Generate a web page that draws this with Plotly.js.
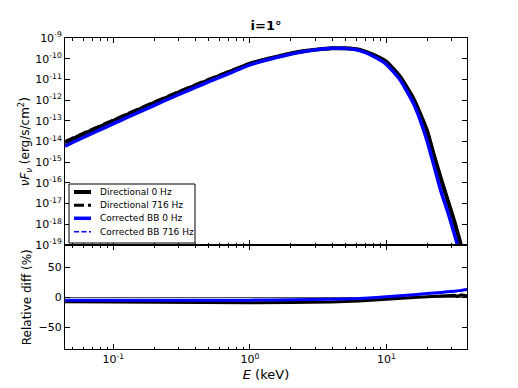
<!DOCTYPE html>
<html>
<head>
<meta charset="utf-8">
<script src="https://cdn.plot.ly/plotly-3.0.1.min.js"></script>
<style>
  html, body { margin: 0; padding: 0; background: #fff; }
  #plot { width: 518px; height: 388px; }
</style>
</head>
<body>
<div id="plot"></div>
<script>
// photon energy grid (keV)
var energy = [0.0442, 0.0501, 0.0631, 0.0794, 0.1, 0.1259, 0.1585, 0.1995, 0.2512, 0.3162,
              0.3981, 0.5012, 0.631, 0.794, 1.0, 1.259, 1.585, 1.995, 2.512, 3.162,
              3.981, 5.012, 6.31, 7.943, 10, 12.59, 15.85, 17.78, 19.95, 22.39, 25.12, 28.18, 31.62, 35.48, 39.81];

// nu F_nu (erg/s/cm^2)
var dir0 = [8.91e-15, 1.32e-14, 2.63e-14, 5.13e-14, 1.0e-13, 1.95e-13, 3.80e-13, 7.41e-13, 1.41e-12, 2.69e-12,
            5.01e-12, 9.33e-12, 1.70e-11, 3.16e-11, 5.75e-11, 8.71e-11, 1.26e-10, 1.78e-10, 2.34e-10, 2.82e-10,
            3.16e-10, 3.16e-10, 2.69e-10, 1.58e-10, 7.08e-11, 1.35e-11, 1.12e-12, 2.0e-13, 3.02e-14, 2.0e-15,
            1.58e-16, 1.41e-17, 1.26e-18, 8.32e-20, 6.31e-21];
var dir716 = [9.77e-15, 1.45e-14, 2.88e-14, 5.62e-14, 1.10e-13, 2.14e-13, 4.17e-13, 8.13e-13, 1.55e-12, 2.95e-12,
              5.50e-12, 1.02e-11, 1.82e-11, 3.31e-11, 5.89e-11, 8.91e-11, 1.26e-10, 1.78e-10, 2.34e-10, 2.82e-10,
              3.16e-10, 3.16e-10, 2.69e-10, 1.58e-10, 7.08e-11, 1.35e-11, 1.12e-12, 2.0e-13, 3.02e-14, 2.0e-15,
              1.58e-16, 1.41e-17, 1.26e-18, 8.32e-20, 6.31e-21];
var bb0 = [6.03e-15, 8.91e-15, 1.82e-14, 3.63e-14, 7.24e-14, 1.45e-13, 2.88e-13, 5.62e-13, 1.10e-12, 2.14e-12,
           4.07e-12, 7.76e-12, 1.45e-11, 2.69e-11, 5.01e-11, 7.94e-11, 1.17e-10, 1.66e-10, 2.24e-10, 2.75e-10,
           3.16e-10, 3.09e-10, 2.51e-10, 1.35e-10, 5.37e-11, 9.55e-12, 6.61e-13, 1.0e-13, 1.0e-14, 6.31e-16,
           3.98e-17, 3.98e-18, 3.16e-19, 2.0e-20, 1.0e-21];
var bb716 = [6.2e-15, 9.1e-15, 1.86e-14, 3.7e-14, 7.4e-14, 1.48e-13, 2.94e-13, 5.7e-13, 1.12e-12, 2.18e-12,
             4.1e-12, 7.8e-12, 1.46e-11, 2.7e-11, 5.0e-11, 7.94e-11, 1.17e-10, 1.66e-10, 2.24e-10, 2.75e-10,
             3.16e-10, 3.09e-10, 2.51e-10, 1.35e-10, 5.37e-11, 9.55e-12, 6.61e-13, 1.0e-13, 1.0e-14, 6.31e-16,
             3.98e-17, 3.98e-18, 3.16e-19, 2.0e-20, 1.0e-21];

// relative difference (%)
var diffEnergy = [0.0442, 0.1, 0.3162, 1.0, 1.995, 3.981, 6.31, 10, 15.85, 25.12, 31.62, 33.1, 35.48, 39.81];
var diffDir = [-7.5, -8.2, -9, -9, -8.6, -7.8, -6, -2.8, -0.3, 2.2, 3.3, 1.5, 4, 2];
var diffBB = [-5, -5, -5, -4.7, -4.2, -3.4, -2, 0.8, 4.3, 8.1, 10.2, 10.7, 11.5, 13.2];

// tick labels
var xTickVals = [0.1, 1, 10];
var xTickText = ['10<sup>-1</sup>', '10<sup>0</sup>', '10<sup>1</sup>'];
var yTickVals = [1e-19, 1e-18, 1e-17, 1e-16, 1e-15, 1e-14, 1e-13, 1e-12, 1e-11, 1e-10, 1e-9];
var yTickText = ['10<sup>-19</sup>', '10<sup>-18</sup>', '10<sup>-17</sup>', '10<sup>-16</sup>', '10<sup>-15</sup>',
                 '10<sup>-14</sup>', '10<sup>-13</sup>', '10<sup>-12</sup>', '10<sup>-11</sup>', '10<sup>-10</sup>',
                 '10<sup>-9</sup>'];

// series styles (shared by the traces and the hand-drawn legend)
var names = ['Directional 0 Hz', 'Directional 716 Hz', 'Corrected BB 0 Hz', 'Corrected BB 716 Hz'];
var styles = [
  {color: 'black', width: 4, dash: 'solid'},
  {color: 'black', width: 3, dash: '10px,4px'},
  {color: '#0000ff', width: 3.5, dash: 'solid'},
  {color: '#0000ff', width: 1.5, dash: '5px,2.5px'}
];
var fluxes = [dir0, dir716, bb0, bb716];

var traces = fluxes.map(function (f, i) {
  return {x: energy, y: f, name: names[i], mode: 'lines', showlegend: false,
          line: {color: styles[i].color, width: styles[i].width, dash: styles[i].dash,
                 shape: 'spline', smoothing: 0.5}};
});
traces.push({x: diffEnergy, y: diffDir, xaxis: 'x2', yaxis: 'y2', mode: 'lines', showlegend: false,
             line: {color: 'black', width: 3}});
traces.push({x: diffEnergy, y: diffBB, xaxis: 'x2', yaxis: 'y2', mode: 'lines', showlegend: false,
             line: {color: '#0000ff', width: 3, shape: 'spline', smoothing: 0.6}});

var font = {family: 'DejaVu Sans', size: 11, color: 'black'};
var split = 104 / 311;

var xcommon = {
  type: 'log', range: [-1.355, 1.591], tickvals: xTickVals, ticktext: xTickText,
  ticks: 'inside', ticklen: 5, tickcolor: 'black', mirror: 'allticks',
  showline: true, linecolor: 'black', linewidth: 1, showgrid: false, zeroline: false,
  minor: {ticks: 'inside', ticklen: 2.5, tickcolor: 'black', dtick: 'D1', showgrid: false},
  tickfont: font
};

// legend box drawn by hand so the rows sit as close as in the original
var shapes = [{type: 'rect', xref: 'paper', yref: 'paper', x0: 0.01, x1: 0.3234, y0: 0.3408, y1: 0.5305,
               fillcolor: 'white', line: {color: 'black', width: 1}, layer: 'above'}];
var annotations = [];
var rowY = [0.5048, 0.4621, 0.4203, 0.3772];
names.forEach(function (n, i) {
  shapes.push({type: 'line', xref: 'paper', yref: 'paper', x0: 0.0224, x1: 0.0647, y0: rowY[i], y1: rowY[i],
               line: {color: styles[i].color, width: styles[i].width, dash: styles[i].dash}, layer: 'above'});
  annotations.push({text: n, xref: 'paper', yref: 'paper', x: 0.0821, y: rowY[i], xanchor: 'left',
                    yanchor: 'middle', showarrow: false,
                    font: {family: 'DejaVu Sans', size: 9, color: 'black'}});
});
annotations.push({text: '<i>νF<sub>ν</sub></i> (erg/s/cm<sup>2</sup>)', xref: 'paper', yref: 'paper',
                  x: -0.1, y: (split + 1) / 2, xanchor: 'center', yanchor: 'middle', textangle: -90,
                  showarrow: false, font: {family: 'DejaVu Sans', size: 12, color: 'black'}});
annotations.push({text: 'Relative diff (%)', xref: 'paper', yref: 'paper',
                  x: -0.094, y: split / 2, xanchor: 'center', yanchor: 'middle', textangle: -90,
                  showarrow: false, font: {family: 'DejaVu Sans', size: 12, color: 'black'}});

var layout = {
  width: 518, height: 388,
  margin: {l: 65, r: 51, t: 38, b: 39, pad: 0},
  paper_bgcolor: 'white', plot_bgcolor: 'white',
  font: font,
  showlegend: false,
  title: {text: '<b>i=1°</b>', font: {family: 'DejaVu Sans', size: 13, color: 'black'},
          xref: 'paper', x: 0.5, yref: 'container', y: 0.935, yanchor: 'middle'},
  xaxis: Object.assign({}, xcommon, {anchor: 'y', showticklabels: false}),
  xaxis2: Object.assign({}, xcommon, {anchor: 'y2', matches: 'x',
    title: {text: '<i>E</i> (keV)', font: {size: 13}, standoff: 4}}),
  yaxis: {
    type: 'log', range: [-19, -9], tickvals: yTickVals, ticktext: yTickText,
    domain: [split, 1], anchor: 'x',
    ticks: 'inside', ticklen: 5, tickcolor: 'black', mirror: 'allticks',
    showline: true, linecolor: 'black', linewidth: 1, showgrid: false, zeroline: false,
    tickfont: font
  },
  yaxis2: {
    range: [-86, 87], tickvals: [-50, 0, 50], domain: [0, split], anchor: 'x2',
    ticks: 'inside', ticklen: 5, tickcolor: 'black', mirror: 'allticks',
    showline: true, linecolor: 'black', linewidth: 1, showgrid: false,
    zeroline: true, zerolinecolor: '#555', zerolinewidth: 1,
    tickfont: font
  },
  shapes: shapes,
  annotations: annotations
};

Plotly.newPlot('plot', traces, layout, {displayModeBar: false, staticPlot: true});
</script>
</body>
</html>
